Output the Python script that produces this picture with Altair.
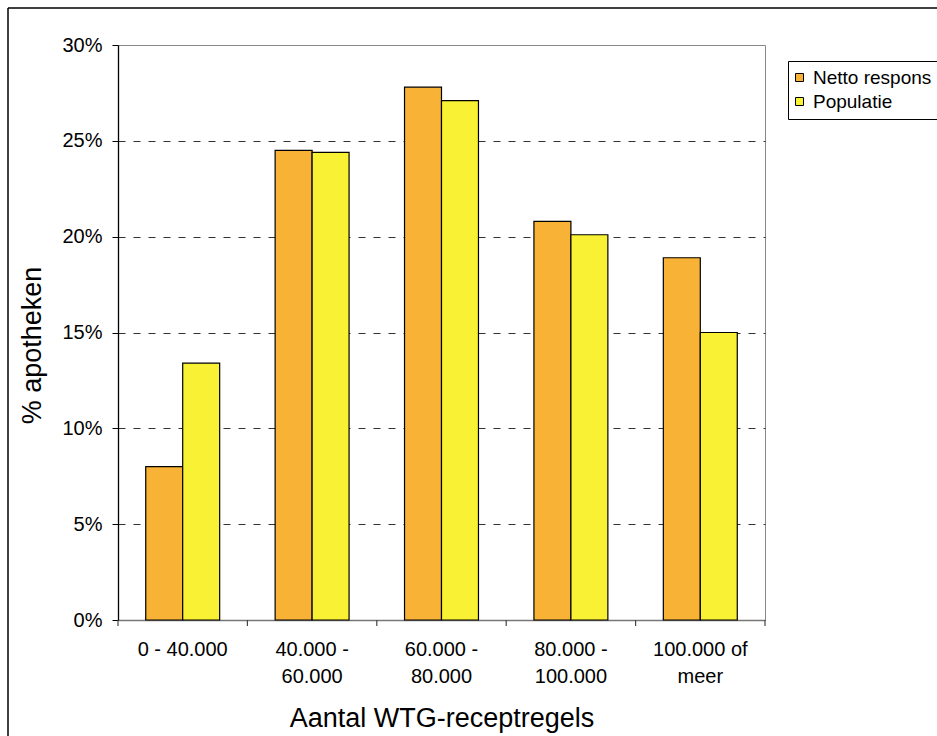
import altair as alt
import pandas as pd

# Share of pharmacies per class of WTG prescription lines
categories = [
    "0 - 40.000",
    "40.000 -\n60.000",
    "60.000 -\n80.000",
    "80.000 -\n100.000",
    "100.000 of\nmeer",
]
series = ["Netto respons", "Populatie"]
netto_respons = [8.0, 24.5, 27.8, 20.8, 18.9]
populatie = [13.4, 24.4, 27.1, 20.1, 15.0]
y_ticks = [0, 5, 10, 15, 20, 25, 30]
colors = ["#F8B235", "#F9F134"]

rows = []
for cat, a, b in zip(categories, netto_respons, populatie):
    rows.append({"cat": cat, "serie": series[0], "value": a})
    rows.append({"cat": cat, "serie": series[1], "value": b})
df = pd.DataFrame(rows)
cat_df = pd.DataFrame({"cat": categories})
last_df = pd.DataFrame({"cat": categories[-1:]})
one = pd.DataFrame({"k": [0]})

FONT = "Liberation Sans"
W, H = 647, 575

x_scale = alt.Scale(domain=categories, paddingInner=0, paddingOuter=0)

bars = (
    alt.Chart(df)
    .mark_bar(stroke="black", strokeWidth=1.2)
    .encode(
        x=alt.X(
            "cat:N",
            sort=categories,
            scale=x_scale,
            axis=alt.Axis(
                title="Aantal WTG-receptregels",
                titleFontSize=27,
                titleFontWeight="normal",
                titleFont=FONT,
                titleColor="black",
                titleY=106,
                titleBaseline="alphabetic",
                labelAngle=0,
                labelFont=FONT,
                labelFontSize=20,
                labelColor="black",
                labelLineHeight=27,
                labelPadding=19,
                labelExpr="split(datum.label, '\\n')",
                ticks=False,
                domainColor="#777777",
                domainWidth=1.5,
                grid=False,
            ),
        ),
        xOffset=alt.XOffset(
            "serie:N",
            sort=series,
            scale=alt.Scale(domain=series, paddingInner=0, paddingOuter=0.75),
        ),
        y=alt.Y(
            "value:Q",
            stack=None,
            scale=alt.Scale(domain=[0, 30], nice=False),
            axis=alt.Axis(
                title="% apotheken",
                titleFontSize=27,
                titleFontWeight="normal",
                titleFont=FONT,
                titleColor="black",
                titleX=-86,
                titleY=300,
                titleAlign="center",
                titleBaseline="middle",
                values=y_ticks,
                labelExpr="datum.value + '%'",
                labelFont=FONT,
                labelFontSize=20,
                labelColor="black",
                labelPadding=10,
                tickSize=6,
                tickColor="black",
                domainColor="black",
                domainWidth=1.3,
                grid=True,
                gridColor="#333333",
                gridDash=[7, 8],
                gridWidth=1,
                gridOpacity={
                    "condition": {"test": "datum.value > 0 && datum.value < 30", "value": 1},
                    "value": 0,
                },
            ),
        ),
        color=alt.Color(
            "serie:N",
            sort=series,
            scale=alt.Scale(domain=series, range=colors),
            legend=alt.Legend(
                title=None,
                orient="none",
                legendX=670,
                legendY=16,
                direction="vertical",
                symbolType="square",
                symbolSize=64,
                symbolStrokeColor="black",
                symbolStrokeWidth=1,
                symbolOffset=-5,
                labelFont=FONT,
                labelFontSize=19,
                labelColor="black",
                labelOffset=4,
                rowPadding=4,
                padding=7,
                fillColor="white",
                strokeColor="black",
            ),
        ),
    )
)

# category separator ticks below the x axis
sep_ticks = (
    alt.Chart(cat_df)
    .mark_rule(color="#444444", strokeWidth=1.2)
    .encode(
        x=alt.X("cat:N", sort=categories, scale=x_scale, bandPosition=0),
        y=alt.value(H),
        y2=alt.value(H + 6),
    )
)
end_tick = (
    alt.Chart(last_df)
    .mark_rule(color="#444444", strokeWidth=1.2)
    .encode(
        x=alt.X("cat:N", sort=categories, scale=x_scale, bandPosition=1),
        y=alt.value(H),
        y2=alt.value(H + 6),
    )
)

# outer frame of the chart
frame_left = (
    alt.Chart(one)
    .mark_rule(color="black", strokeWidth=1.5)
    .encode(x=alt.value(-110), y=alt.value(-37), y2=alt.value(720))
)
frame_top = (
    alt.Chart(one)
    .mark_rule(color="black", strokeWidth=1.5)
    .encode(x=alt.value(-110), x2=alt.value(830), y=alt.value(-37))
)

chart = (
    alt.layer(bars, sep_ticks, end_tick, frame_left, frame_top)
    .properties(
        width=W,
        height=H,
        autosize=alt.AutoSizeParams(type="none"),
        padding={"left": 118, "top": 45, "right": 172, "bottom": 116},
        background="white",
    )
    .configure_view(stroke="#888888", strokeWidth=1)
)

chart.save("out.html", embed_options={"renderer": "svg", "actions": False})
